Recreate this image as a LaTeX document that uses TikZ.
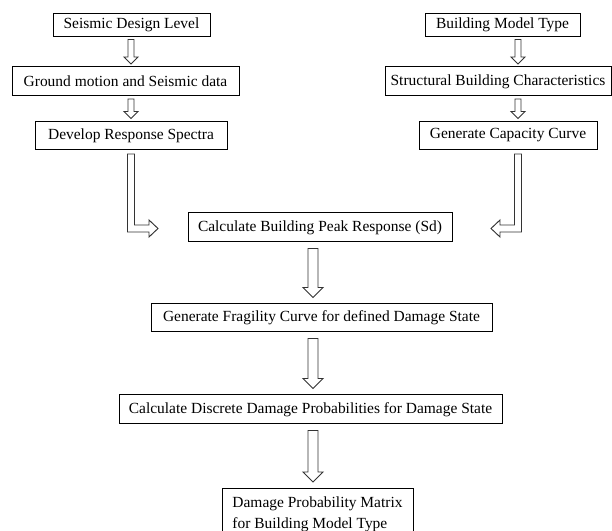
\documentclass[tikz,border=0pt]{standalone}
\usepackage{fontspec}
\setmainfont{Liberation Serif}
\usetikzlibrary{calc}
\newcommand\pxu{0.75pt}
\tikzset{
  box/.style={draw=black, line width=0.75pt, inner sep=0pt, font=\fontsize{11.6}{15.75}\selectfont},
  harrow/.style={draw=black!80, line width=0.7pt, fill=white, line join=miter},
}
% vertical hollow arrow: from node, to node, x-ref, shaft half, head half, head length, gap (all px)
\newcommand\vhollow[7]{%
  \draw[harrow] let \p1=(#3), \p2=(#1.south), \p3=(#2.north) in
  (\x1-#4*\pxu,\y2-#7*\pxu) -- (\x1-#4*\pxu,\y3+#7*\pxu+#6*\pxu) -- (\x1-#5*\pxu,\y3+#7*\pxu+#6*\pxu)
  -- (\x1,\y3+#7*\pxu) -- (\x1+#5*\pxu,\y3+#7*\pxu+#6*\pxu) -- (\x1+#4*\pxu,\y3+#7*\pxu+#6*\pxu)
  -- (\x1+#4*\pxu,\y2-#7*\pxu) -- cycle;}
% L-shaped hollow arrow: from node, tip coordinate, x-ref, direction (1 right, -1 left)
\newcommand\lhollow[4]{%
  \draw[harrow] let \p1=(#3), \p2=(#1.south), \p4=(#2) in
  ({\x1-#4*3.5*\pxu},{\y2-4*\pxu}) -- ({\x1-#4*3.5*\pxu},{\y4-3.5*\pxu})
  -- ({\x4-#4*9*\pxu},{\y4-3.5*\pxu}) -- ({\x4-#4*9*\pxu},{\y4-8.5*\pxu}) -- (\x4,\y4)
  -- ({\x4-#4*9*\pxu},{\y4+8.5*\pxu}) -- ({\x4-#4*9*\pxu},{\y4+3.5*\pxu})
  -- ({\x1+#4*3.5*\pxu},{\y4+3.5*\pxu}) -- ({\x1+#4*3.5*\pxu},{\y2-4*\pxu}) -- cycle;}
\begin{document}
\begin{tikzpicture}[x=0.75pt,y=-0.75pt]
\useasboundingbox (0,0) rectangle (612,531);
\clip (0,0) rectangle (612,531);
% left column
\node[box, minimum width=157*\pxu, minimum height=23*\pxu] (n1) at (131.5,25) {Seismic Design Level};
\node[box, minimum width=227*\pxu, minimum height=29*\pxu] (n2) at (125.5,81.5) {Ground motion and Seismic data};
\node[box, minimum width=192*\pxu, minimum height=28*\pxu] (n3) at (131,135.5) {Develop Response Spectra};
% right column
\node[box, minimum width=155*\pxu, minimum height=23*\pxu] (m1) at (502.5,25) {Building Model Type};
\node[box, minimum width=226*\pxu, minimum height=29*\pxu] (m2) at (498,81.5) {Structural Building Characteristics};
\node[box, minimum width=178*\pxu, minimum height=28*\pxu] (m3) at (508,135.5) {Generate Capacity Curve};
% centre column
\node[box, minimum width=264*\pxu, minimum height=29*\pxu] (c) at (320,227.5) {Calculate Building Peak Response (Sd)};
\node[box, minimum width=341*\pxu, minimum height=28*\pxu] (f) at (321.5,318) {Generate Fragility Curve for defined Damage State};
\node[box, minimum width=383*\pxu, minimum height=29*\pxu] (d) at (310.5,409.5) {Calculate Discrete Damage Probabilities for Damage State};
\node[box, anchor=north, align=left, minimum width=191*\pxu, inner xsep=0pt, inner ysep=6.5pt] (p) at (317.5,488)
  {Damage Probability Matrix\\for Building Model Type};
% arrow axes and free tips
\coordinate (lx) at (131,0);
\coordinate (rx) at (518,0);
\coordinate (mx) at (313,0);
\coordinate (tipL) at (158,228.5);
\coordinate (tipR) at (491,228.5);
% connectors
\vhollow{n1}{n2}{lx}{3}{7}{7}{2.5}
\vhollow{n2}{n3}{lx}{3}{7}{7}{2.5}
\vhollow{m1}{m2}{rx}{3}{7}{7}{2.5}
\vhollow{m2}{m3}{rx}{3}{7}{7}{2.5}
\lhollow{n3}{tipL}{lx}{1}
\lhollow{m3}{tipR}{rx}{-1}
\vhollow{c}{f}{mx}{5}{10}{10}{6}
\vhollow{f}{d}{mx}{5}{10}{10}{6}
\vhollow{d}{p}{mx}{5}{10}{10}{6}
\end{tikzpicture}
\end{document}
